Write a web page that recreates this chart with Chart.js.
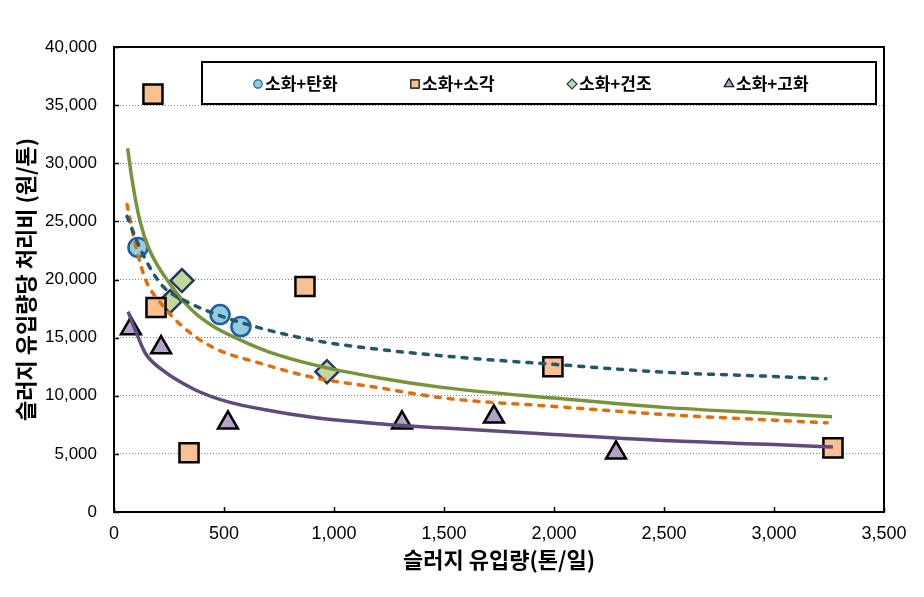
<!DOCTYPE html>
<html>
<head>
<meta charset="utf-8">
<script src="https://cdn.jsdelivr.net/npm/chart.js@4.4.1/dist/chart.umd.min.js"></script>
<style>
    html, body { margin: 0; padding: 0; background: #fff; }
</style>
</head>
<body>
<canvas id="cost_chart" width="924" height="597"></canvas>
<script>
// axis ticks
const xTickValues = [0, 500, 1000, 1500, 2000, 2500, 3000, 3500];
const yTickValues = [0, 5000, 10000, 15000, 20000, 25000, 30000, 35000, 40000];

const seriesNames = ['소화+탄화', '소화+소각', '소화+건조', '소화+고화'];

// measured points (x = 톤/일, y = 원/톤)
const carbonX = [109, 482, 577];
const carbonY = [22760, 16980, 15950];
const burnX = [177, 191, 341, 868, 1995, 3268];
const burnY = [35950, 17590, 5090, 19400, 12500, 5520];
const dryX = [255, 309, 968];
const dryY = [18100, 19910, 12070];
const solidX = [77, 214, 518, 1309, 1727, 2282];
const solidY = [15780, 14140, 7670, 7670, 8190, 5090];

// trend lines
const tealX = [59, 127, 218, 341, 480, 650, 900, 1200, 1573, 2000, 2527, 3000, 3236];
const tealY = [25430, 22330, 19500, 18000, 16900, 15900, 14800, 14000, 13300, 12700, 12000, 11660, 11460];
const greenX = [62, 82, 117, 160, 255, 350, 445, 568, 700, 900, 1200, 1500, 2000, 2500, 3000, 3264];
const greenY = [31300, 28600, 25100, 22600, 19600, 17450, 16050, 14850, 13800, 12700, 11550, 10700, 9800, 9000, 8480, 8200];
const orangeX = [59, 95, 141, 220, 309, 445, 673, 900, 1200, 1500, 2000, 2527, 3000, 3241];
const orangeY = [26460, 23200, 20100, 17800, 16000, 14200, 12750, 11600, 10700, 9800, 9080, 8360, 7900, 7670];
const purpleX = [64, 100, 141, 218, 368, 523, 700, 900, 1200, 1482, 2000, 2527, 3000, 3268];
const purpleY = [17240, 15500, 13700, 12240, 10520, 9450, 8750, 8150, 7600, 7240, 6670, 6120, 5800, 5600];

const toPoints = (xs, ys) => xs.map((x, i) => ({ x: x, y: ys[i] }));

const drawMarker = (ctx, style, x, y, r) => {
    ctx.beginPath();
    switch (style) {
        case 'circle':
            ctx.arc(x, y, r, 0, Math.PI * 2);
            break;
        case 'rect':
            ctx.rect(x - r, y - r, 2 * r, 2 * r);
            break;
        case 'rectRot':
            ctx.moveTo(x, y - r);
            ctx.lineTo(x + r, y);
            ctx.lineTo(x, y + r);
            ctx.lineTo(x - r, y);
            ctx.closePath();
            break;
        case 'triangle':
            ctx.moveTo(x, y - r);
            ctx.lineTo(x + r * 0.866, y + r / 2);
            ctx.lineTo(x - r * 0.866, y + r / 2);
            ctx.closePath();
            break;
        default:
            break;
    }
    ctx.fill();
    ctx.stroke();
};

// legend box sits inside the plot like the excel one
const legendBox = {
    id: 'legendBox',
    afterDatasetsDraw(chart) {
        const ctx = chart.ctx;
        const area = chart.chartArea;
        const left = area.left + 88;
        const top = area.top + 15;
        const w = 674;
        const h = 42;
        ctx.save();
        ctx.fillStyle = '#fff';
        ctx.fillRect(left, top, w, h);
        ctx.lineWidth = 2;
        ctx.strokeStyle = '#000';
        ctx.strokeRect(left, top, w, h);
        ctx.font = 'bold 17px "Noto Sans CJK KR", sans-serif';
        ctx.textBaseline = 'middle';
        const items = chart.data.datasets.filter(ds => ds.inLegend);
        items.forEach((ds, i) => {
            const mx = left + 56 + i * 157;
            const my = top + h / 2 + 1;
            ctx.fillStyle = ds.backgroundColor;
            ctx.strokeStyle = ds.borderColor;
            ctx.lineWidth = 1.2;
            drawMarker(ctx, ds.pointStyle, mx, my, ds.legendSize);
            ctx.fillStyle = '#000';
            ctx.fillText(ds.label, mx + 7, my);
        });
        ctx.restore();
    }
};

// black frame round the plot + small inside tick marks
const plotFrame = {
    id: 'plotFrame',
    afterDraw(chart) {
        const ctx = chart.ctx;
        const area = chart.chartArea;
        const xs = chart.scales.x;
        const ys = chart.scales.y;
        ctx.save();
        ctx.strokeStyle = '#000';
        ctx.lineWidth = 1.5;
        ctx.beginPath();
        for (const v of xTickValues) {
            const px = Math.round(xs.getPixelForValue(v)) + 0.5;
            ctx.moveTo(px, area.bottom);
            ctx.lineTo(px, area.bottom - 5);
        }
        for (const v of yTickValues) {
            const py = Math.round(ys.getPixelForValue(v)) + 0.5;
            ctx.moveTo(area.left, py);
            ctx.lineTo(area.left + 5, py);
        }
        ctx.stroke();
        ctx.lineWidth = 2;
        ctx.strokeRect(area.left, area.top, area.right - area.left, area.bottom - area.top);
        ctx.restore();
    }
};

const scatterSet = (label, xs, ys, style, radius, fill, border, legendSize) => ({
    type: 'scatter',
    label: label,
    data: toPoints(xs, ys),
    pointStyle: style,
    pointRadius: radius,
    backgroundColor: fill,
    borderColor: border,
    borderWidth: 2.5,
    inLegend: true,
    legendSize: legendSize,
    order: 2
});

const trendSet = (xs, ys, color, dash) => ({
    type: 'line',
    data: toPoints(xs, ys),
    borderColor: color,
    borderWidth: 3.5,
    borderDash: dash,
    borderCapStyle: dash.length ? 'round' : 'butt',
    pointRadius: 0,
    fill: false,
    cubicInterpolationMode: 'monotone',
    order: 1
});

const tickFont = { family: '"Liberation Sans", Arial, sans-serif', size: 17 };
const xTickFont = { family: '"Liberation Sans", Arial, sans-serif', size: 18 };
const titleFont = { family: '"Noto Sans CJK KR", sans-serif', size: 22, weight: 'bold' };

const ctx = document.querySelector('#cost_chart');
const costChart = new Chart(ctx, {
    type: 'scatter',
    data: {
        datasets: [
            scatterSet(seriesNames[0], carbonX, carbonY, 'circle', 9.5, '#93CDDD', '#1F5F9F', 4.2),
            scatterSet(seriesNames[1], burnX, burnY, 'rect', 13.5, '#FAC090', '#000000', 4.2),
            scatterSet(seriesNames[2], dryX, dryY, 'rectRot', 11.5, '#C3D69B', '#1F3864', 5),
            scatterSet(seriesNames[3], solidX, solidY, 'triangle', 11.5, '#B3A2C7', '#000000', 5.5),
            trendSet(tealX, tealY, '#215968', [5, 8]),
            trendSet(greenX, greenY, '#77933C', []),
            trendSet(orangeX, orangeY, '#E46C0A', [5, 8]),
            trendSet(purpleX, purpleY, '#604A7B', [])
        ]
    },
    options: {
        responsive: false,
        animation: false,
        devicePixelRatio: 1,
        events: [],
        layout: { padding: { left: 0, top: 47, right: 40, bottom: 0 } },
        plugins: {
            legend: { display: false },
            tooltip: { enabled: false }
        },
        scales: {
            x: {
                type: 'linear',
                min: 0,
                max: 3500,
                afterFit: (scale) => { scale.height = 85; },
                afterBuildTicks: (scale) => { scale.ticks = xTickValues.map(v => ({ value: v })); },
                grid: { display: false, drawTicks: false },
                border: { display: false },
                ticks: {
                    color: '#000',
                    font: xTickFont,
                    padding: 11,
                    maxRotation: 0,
                    callback: (v) => v.toLocaleString('en-US')
                },
                title: {
                    display: true,
                    text: '슬러지 유입량(톤/일)',
                    color: '#000',
                    font: titleFont,
                    padding: { top: 0, bottom: 24 }
                }
            },
            y: {
                min: 0,
                max: 40000,
                afterFit: (scale) => { scale.width = 114; },
                afterBuildTicks: (scale) => { scale.ticks = yTickValues.map(v => ({ value: v })); },
                grid: { color: '#7f7f7f', lineWidth: 1, drawTicks: false },
                border: { display: false, dash: [1, 2] },
                ticks: {
                    color: '#000',
                    font: tickFont,
                    padding: 17,
                    callback: (v) => v.toLocaleString('en-US')
                },
                title: {
                    display: true,
                    text: '슬러지 유입량당 처리비 (원/톤)',
                    color: '#000',
                    font: titleFont,
                    padding: { top: 12, bottom: 0 }
                }
            }
        }
    },
    plugins: [legendBox, plotFrame]
});
</script>
</body>
</html>
